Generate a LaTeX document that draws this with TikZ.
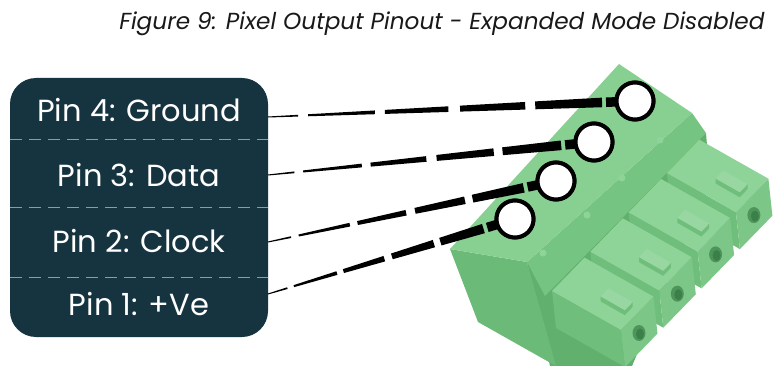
\documentclass[tikz,border=0pt]{standalone}
\usepackage{fontspec}
\setmainfont{Poppins}
\usepackage{tikz}
\usetikzlibrary{positioning,calc}
\definecolor{panelblue}{RGB}{22,51,64}
\definecolor{sepgrey}{RGB}{140,156,164}
\definecolor{gtop}{RGB}{136,207,146}
\definecolor{gstep}{RGB}{118,196,129}
\definecolor{gleft}{RGB}{108,186,119}
\definecolor{gwall}{RGB}{98,176,110}
\definecolor{gplug}{RGB}{142,211,152}
\definecolor{gside}{RGB}{112,190,123}
\definecolor{gfront}{RGB}{124,199,135}
\definecolor{ghole}{RGB}{58,128,72}
\tikzstyle{pinrow}=[text=white, font=\fontsize{30.5}{32}\selectfont, inner sep=0pt]
\tikzstyle{pinhead}=[circle, draw=black, fill=white, line width=4pt, minimum size=37pt, inner sep=0pt]
\tikzstyle{sepline}=[sepgrey, dash pattern=on 12pt off 7pt, line width=0.8pt]

\begin{document}
\begin{tikzpicture}[x=1pt, y=-1pt]
	\useasboundingbox (0,0) rectangle (776,366);

	\node[anchor=base east, text=black!90, font=\fontsize{23.2}{27}\selectfont\itshape] (title) at (768,30)
		{Figure 9: Pixel Output Pinout - Expanded Mode Disabled};

	% pin table
	\fill[panelblue, rounded corners=26pt] (10,78) rectangle (268,337);
	\foreach \y in {139,207,277}
		\draw[sepline] (10,\y) -- (268,\y);

	\node[pinrow, anchor=base] (r4) at (139,122) {Pin 4: Ground};
	\node[pinrow, below=65pt of r4.base, anchor=base] (r3) {Pin 3: Data};
	\node[pinrow, below=65pt of r3.base, anchor=base] (r2) {Pin 2: Clock};
	\node[pinrow, below=63pt of r2.base, anchor=base] (r1) {Pin 1: +Ve};

	% terminal block
	\fill[gwall] (527,262) -- (706,133) -- (710,182) -- (632,366) -- (550,366) -- cycle;
	\fill[gleft] (450,249) -- (527,262) -- (556,366) -- (478,322) -- cycle;
	\fill[gstep] (527,262) -- (692,113) -- (706,133) -- (545,296) -- cycle;
	\fill[gtop] (450,249) -- (619,64) -- (692,113) -- (527,262) -- cycle;
	\foreach \bx/\by in {543/253,587/215,622/178,660/140}
		\fill[gplug] (\bx,\by) circle[radius=3.5pt];

	\foreach \k in {3,2,1,0}{
		\begin{scope}[shift={(552+38.3*\k,291-39.3*\k)}]
			\fill[gside] (0,0) -- (69,39) -- (73,76) -- (4,37) -- cycle;
			\fill[gplug] (0,0) -- (32.5,-33.4) -- (101.5,5.6) -- (69,39) -- cycle;
			\fill[gfront] (69,39) -- (101.5,5.6) -- (105.5,42.6) -- (73,76) -- cycle;
			\fill[ghole!70!gfront] (87,42) ellipse[x radius=6.5pt, y radius=8pt];
			\fill[ghole] (88,43) ellipse[x radius=4pt, y radius=5.5pt];
			\fill[gside] (48.7,10.4) -- (72.8,24.1) -- (80.6,16.1) -- (80.6,11.1) -- (72.8,19.1) -- (48.7,5.4) -- cycle;
			\fill[gplug!90!white] (48.7,5.4) -- (56.5,-2.6) -- (80.6,11.1) -- (72.8,19.1) -- cycle;
		\end{scope}
	}

	% pin heads
	\node[pinhead] (c4) at (635,101) {};
	\node[pinhead] (c3) at (594,142) {};
	\node[pinhead] (c2) at (556,181) {};
	\node[pinhead] (c1) at (515,219) {};

	\coordinate (a4) at (268,117);
	\coordinate (a3) at (268,175);
	\coordinate (a2) at (268,242);
	\coordinate (a1) at (268,294);

	% tapered leaders
	\foreach \i in {1,...,4}{
		\coordinate (e\i) at ($(c\i)!33pt!(a\i)$);
		\foreach \s/\e in {0/0.09,0.12/0.32,0.35/0.54,0.575/0.77,0.8/1}{
			\pgfmathsetmacro\ws{0.5+4.3*\s}
			\pgfmathsetmacro\we{0.5+4.3*\e}
			\coordinate (s) at ($(a\i)!\s!(e\i)$);
			\coordinate (t) at ($(a\i)!\e!(e\i)$);
			\fill ($(s)!\ws pt!90:(t)$) -- ($(t)!\we pt!-90:(s)$) -- ($(t)!\we pt!90:(s)$) -- ($(s)!\ws pt!-90:(t)$) -- cycle;
		}
		\draw[line width=9.5pt] ($(c\i)!29pt!(a\i)$) -- ($(c\i)!17pt!(a\i)$);
	}
	\foreach \i in {1,...,4}
		\node[pinhead] at (c\i) {};
\end{tikzpicture}
\end{document}
